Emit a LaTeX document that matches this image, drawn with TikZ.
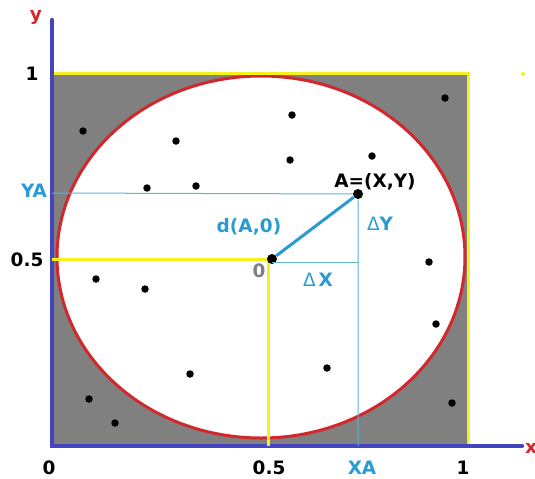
\documentclass[tikz,border=0pt]{standalone}
\usepackage{fontspec}
\setmainfont{DejaVu Sans}
\usetikzlibrary{positioning}
\definecolor{axisblue}{RGB}{68,68,190}
\definecolor{boxgray}{RGB}{128,128,128}
\definecolor{circred}{RGB}{210,40,45}
\definecolor{markyellow}{RGB}{245,240,30}
\definecolor{labelcyan}{RGB}{40,155,210}
\definecolor{guidecyan}{RGB}{95,180,215}

\begin{document}
\begin{tikzpicture}[x=0.02cm, y=-0.02cm,
    lbl/.style={font=\fontsize{10.5}{12}\selectfont\bfseries},
    dot/.style={circle, fill=black, inner sep=0pt, minimum size=0.15cm},
    bigdot/.style={circle, fill=black, inner sep=0pt, minimum size=0.2cm}]
    \useasboundingbox (0,0) rectangle (535,478);

    % Square and circle
    \fill[boxgray] (52,73) rectangle (468,446);
    \draw[circred, line width=0.06cm, fill=white] (261,257) ellipse [x radius=204, y radius=181];

    % Yellow borders
    \draw[markyellow, line width=0.06cm] (52,73) -- (468,73) -- (468,446);
    \fill[markyellow] (523,74) circle (2);

    % Axis
    \draw[axisblue, line width=0.09cm, line cap=round] (52,20) -- (52,446) -- (522,446);
    \node[lbl, circred] (ylab) at (36,17) {y};
    \node[lbl, circred] (xlab) at (531,448) {x};

    % Random points
    \foreach \px/\py [count=\i] in {83/131, 176/141, 292/115, 290/160, 372/156, 147/188,
        196/186, 445/98, 96/279, 145/289, 429/262, 436/324, 452/403, 89/399, 115/423,
        190/374, 327/368}
        \node[dot] (p\i) at (\px,\py) {};

    % Center and point A
    \draw[markyellow, line width=0.06cm] (52,259) -- (268,259) -- (268,446);
    \node[bigdot] (O) at (272,259) {};
    \node[bigdot] (A) at (358,194) {};
    \coordinate (YA) at (52,193);
    \coordinate (XA) at (358,446);
    \coordinate (DX) at (358,262);

    % Guide lines
    \draw[guidecyan, line width=0.02cm] (YA) -- (A) -- (XA);
    \draw[guidecyan, line width=0.02cm] (DX -| O) -- (DX);
    \draw[labelcyan, line width=0.06cm] (O) -- (A);

    % Labels
    \node[lbl] (Alab) at (375,182) {A=(X,Y)};
    \node[lbl, labelcyan] (dlab) at (249,227) {d(A,0)};
    \node[lbl, labelcyan] (dylab) at (380,224) {\mdseries Δ\bfseries Y};
    \node[lbl, labelcyan] (dxlab) at (318,280) {\mdseries Δ\,\bfseries X};
    \node[lbl, boxgray] (Olab) at (259,271) {0};

    % Ticks
    \node[lbl] (y1) at (32,74) {1};
    \node[lbl] (yhalf) at (27,260) {0.5};
    \node[lbl, labelcyan] (yA) at (34,191) {YA};
    \node[lbl] (x0) at (49,468) {0};
    \node[lbl] (xhalf) at (269,468) {0.5};
    \node[lbl, labelcyan] (xA) at (362,468) {XA};
    \node[lbl] (x1) at (463,468) {1};
\end{tikzpicture}
\end{document}
